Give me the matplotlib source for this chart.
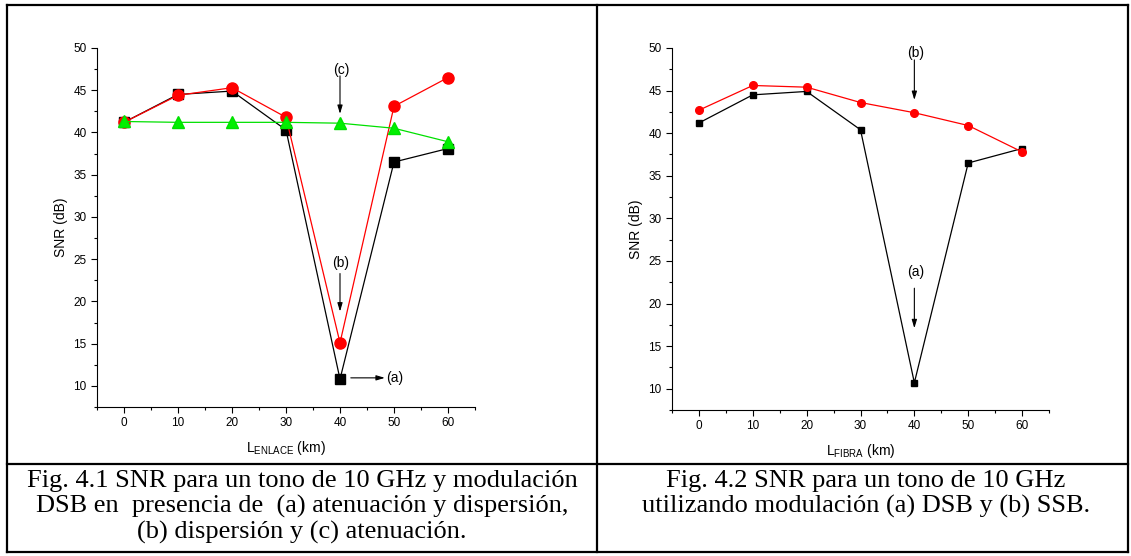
import matplotlib
matplotlib.use("Agg")
import matplotlib.pyplot as plt
from matplotlib.lines import Line2D
from matplotlib.ticker import MultipleLocator

plt.rcParams["font.family"] = ["Liberation Sans", "DejaVu Sans"]
plt.rcParams["mathtext.default"] = "regular"

# Longitud del enlace (km)
longitud = [0, 10, 20, 30, 40, 50, 60]

# Fig. 4.1 - DSB
snr_aten_disp = [41.2, 44.5, 44.9, 40.3, 10.8, 36.5, 38.1]
snr_disp = [41.2, 44.4, 45.3, 41.8, 15.1, 43.1, 46.5]
snr_aten = [41.3, 41.2, 41.2, 41.2, 41.1, 40.5, 38.9]

# Fig. 4.2 - DSB vs SSB
snr_dsb = [41.2, 44.5, 44.9, 40.4, 10.7, 36.5, 38.2]
snr_ssb = [42.7, 45.6, 45.4, 43.6, 42.4, 40.9, 37.8]

caption_izq = ["Fig. 4.1 SNR para un tono de 10 GHz y modulación",
               "DSB en  presencia de  (a) atenuación y dispersión,",
               "(b) dispersión y (c) atenuación."]
caption_der = ["Fig. 4.2 SNR para un tono de 10 GHz",
               "utilizando modulación (a) DSB y (b) SSB."]

W, H = 1131, 556
fig = plt.figure(figsize=(W / 100, H / 100), dpi=100)


def fx(px):
    return px / W


def fy(py):
    return 1 - py / H


def estilo_ejes(ax, xlabel):
    ax.set_xlim(-5, 65)
    ax.set_ylim(7.5, 50)
    ax.spines["top"].set_visible(False)
    ax.spines["right"].set_visible(False)
    ax.spines["left"].set_bounds(7.5, 50)
    ax.xaxis.set_major_locator(MultipleLocator(10))
    ax.xaxis.set_minor_locator(MultipleLocator(5))
    ax.yaxis.set_major_locator(MultipleLocator(5))
    ax.yaxis.set_minor_locator(MultipleLocator(2.5))
    ax.tick_params(which="major", direction="out", length=4, width=0.8, labelsize=8.5)
    ax.tick_params(which="minor", direction="out", length=2.5, width=0.8)
    ax.set_yticks([10, 15, 20, 25, 30, 35, 40, 45, 50])
    ax.set_ylabel("SNR (dB)", fontsize=10)
    ax.set_xlabel(xlabel, fontsize=10, labelpad=7)


def flecha(ax, x0, y0, x1, y1):
    ax.annotate("", xy=(x1, y1), xytext=(x0, y0),
                arrowprops=dict(arrowstyle="-|>,head_length=0.5,head_width=0.15",
                                color="black", lw=0.8, shrinkA=0, shrinkB=0))


# Panel izquierdo
ax1 = fig.add_axes([fx(97), fy(407), fx(475 - 97), (407 - 48) / H])
ax1.plot(longitud, snr_aten_disp, color="black", lw=0.9, marker="s", ms=7.5)
ax1.plot(longitud, snr_disp, color="red", lw=0.9, marker="o", ms=8)
ax1.plot(longitud, snr_aten, color="#00e000", lw=0.9, marker="^", ms=8.5,
         markerfacecolor="#00f000", markeredgecolor="#00e000")
estilo_ejes(ax1, "L$_{ENLACE}$ (km)")
ax1.text(40.2, 47.4, "(c)", ha="center", va="center", fontsize=10)
flecha(ax1, 40, 46.7, 40, 42.2)
ax1.text(40.2, 24.5, "(b)", ha="center", va="center", fontsize=10)
flecha(ax1, 40, 23.3, 40, 18.8)
flecha(ax1, 42.0, 10.95, 48.3, 10.95)
ax1.text(48.6, 10.9, "(a)", ha="left", va="center", fontsize=10)

# Panel derecho
ax2 = fig.add_axes([fx(672), fy(410), fx(1049 - 672), (410 - 48) / H])
ax2.plot(longitud, snr_dsb, color="black", lw=0.9, marker="s", ms=5)
ax2.plot(longitud, snr_ssb, color="red", lw=0.9, marker="o", ms=5.5)
estilo_ejes(ax2, "L$_{FIBRA}$ (km)")
ax2.text(40.2, 49.4, "(b)", ha="center", va="center", fontsize=10)
flecha(ax2, 40, 48.6, 40, 43.9)
ax2.text(40.2, 23.7, "(a)", ha="center", va="center", fontsize=10)
flecha(ax2, 40, 21.8, 40, 17.1)

# Bordes de la tabla
bordes = [((7, 7), (5, 552)), ((1128, 1128), (5, 552)), ((7, 1128), (5, 5)),
          ((7, 1128), (552, 552)), ((7, 1128), (464, 464)), ((597, 597), (5, 552))]
for xs, ys in bordes:
    fig.add_artist(Line2D([fx(x) for x in xs], [fy(y) for y in ys],
                          color="black", lw=1.6, solid_capstyle="projecting"))

# Pies de figura
for i, linea in enumerate(caption_izq):
    fig.text(fx(302), fy(487 + 26 * i), linea, ha="center", va="baseline",
             fontsize=19, family="Liberation Serif")
for i, linea in enumerate(caption_der):
    fig.text(fx(866), fy(487 + 26 * i), linea, ha="center", va="baseline",
             fontsize=19, family="Liberation Serif")

fig.savefig("out.png", dpi=100)
